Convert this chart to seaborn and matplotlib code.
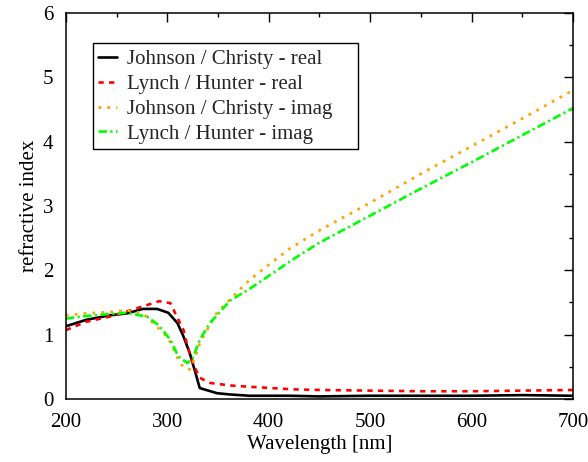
import numpy as np
import pandas as pd
import matplotlib
matplotlib.use("Agg")
import matplotlib.pyplot as plt
import seaborn as sns
from matplotlib.ticker import MultipleLocator
from matplotlib.patches import Rectangle

# Johnson / Christy (wavelength grid in nm)
wl_jc = [200, 220, 243, 260, 276, 290, 301, 310, 316, 322, 327, 332, 349, 362,
         381, 420, 450, 500, 550, 600, 650, 700]
n_jc = [1.13, 1.23, 1.30, 1.33, 1.40, 1.40, 1.34, 1.18, 0.97, 0.72, 0.45, 0.17,
        0.09, 0.07, 0.05, 0.05, 0.04, 0.05, 0.05, 0.05, 0.06, 0.05]
k_jc = [1.30, 1.33, 1.35, 1.38, 1.33, 1.12, 0.95, 0.64, 0.49, 0.46, 0.62, 0.87,
        1.34, 1.55, 1.85, 2.33, 2.62, 3.05, 3.50, 3.93, 4.36, 4.80]

# Lynch / Hunter
wl_lh = [200, 220, 243, 260, 280, 292, 303, 311, 316, 320, 325, 332, 342, 362,
         381, 424, 450, 500, 550, 600, 650, 700]
n_lh = [1.07, 1.20, 1.28, 1.36, 1.46, 1.52, 1.49, 1.23, 1.07, 0.81, 0.56, 0.33,
        0.25, 0.21, 0.19, 0.15, 0.14, 0.13, 0.12, 0.12, 0.13, 0.14]
k_lh = [1.25, 1.29, 1.32, 1.34, 1.28, 1.14, 0.92, 0.66, 0.60, 0.56, 0.63, 0.92,
        1.18, 1.53, 1.71, 2.17, 2.43, 2.85, 3.27, 3.68, 4.10, 4.52]

labels = ["Johnson / Christy - real", "Lynch / Hunter - real",
          "Johnson / Christy - imag", "Lynch / Hunter - imag"]

sns.set_theme(style="white")
plt.rcParams['font.family'] = ['Liberation Serif', 'DejaVu Serif']

FS = 15

fig = plt.figure(figsize=(5.88, 4.62), dpi=100)
ax = fig.add_axes([0.112, 0.1364, 0.8625, 0.8355])

series = [
    (wl_jc, n_jc, labels[0], "black", "", 1.9),
    (wl_lh, n_lh, labels[1], "#ff0000", (2.0, 2.0), 1.9),
    (wl_jc, k_jc, labels[2], "#ffa500", (1.0, 2.2), 2.0),
    (wl_lh, k_lh, labels[3], "#00ff00", (3.2, 1.3, 0.8, 1.3), 1.9),
]
for x, y, lab, col, dash, lw in series:
    df = pd.DataFrame({"Wavelength": x, "value": y})
    sns.lineplot(data=df, x="Wavelength", y="value", ax=ax, color=col,
                 label=lab, lw=lw)
    ln = ax.lines[-1]
    if dash:
        ln.set_dashes(dash)

ax.set_xlim(200, 700)
ax.set_ylim(0, 6)
ax.xaxis.set_major_locator(MultipleLocator(100))
ax.xaxis.set_minor_locator(MultipleLocator(50))
ax.yaxis.set_major_locator(MultipleLocator(1))
ax.yaxis.set_minor_locator(MultipleLocator(0.5))
ax.tick_params(which='both', direction='in', top=True, right=True,
               labelsize=FS, colors='black')
ax.tick_params(axis='x', which='both', pad=10)
ax.tick_params(axis='y', which='both', pad=9)
ax.tick_params(which='major', length=6.5, width=1)
ax.tick_params(which='minor', length=3.2, width=1)
for s in ax.spines.values():
    s.set_color('black')
    s.set_linewidth(1.1)

ax.set_xlabel("Wavelength [nm]", fontsize=FS, color='black', labelpad=2)
ax.set_ylabel("refractive index", fontsize=FS, color='black', labelpad=3)

leg = ax.legend(loc='upper left', bbox_to_anchor=(0.064, 0.905),
                borderaxespad=0, fontsize=FS, frameon=False, handlelength=0.9,
                handletextpad=0.5, labelspacing=0.25, borderpad=0.0)
ax.add_patch(Rectangle((0.0533, 0.648), 0.5227, 0.274, transform=ax.transAxes,
                       fill=True, facecolor='white', edgecolor='black',
                       lw=1.0, zorder=4))
leg.set_zorder(5)

fig.savefig("out.png", dpi=100)
